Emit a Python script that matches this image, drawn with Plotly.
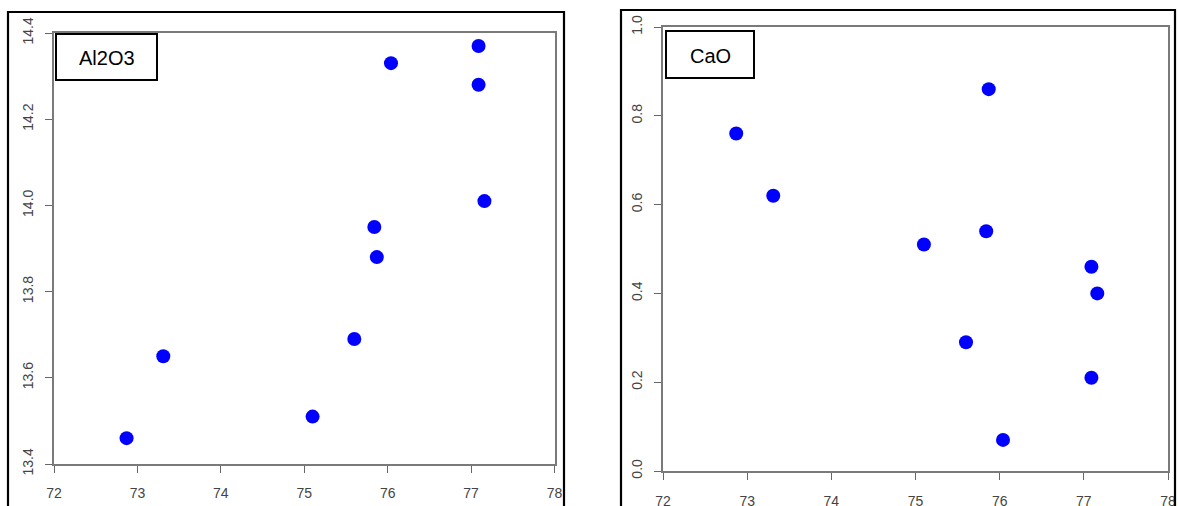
import plotly.graph_objects as go

W, H = 1178, 506

sio2 = [72.87, 73.31, 75.10, 75.60, 75.84, 75.87, 76.04, 77.09, 77.09, 77.16]
al2o3 = [13.46, 13.65, 13.51, 13.69, 13.95, 13.88, 14.33, 14.37, 14.28, 14.01]
cao = [0.76, 0.62, 0.51, 0.29, 0.54, 0.86, 0.07, 0.46, 0.21, 0.40]

x_ticks = [72, 73, 74, 75, 76, 77, 78]
al_ticks = [13.4, 13.6, 13.8, 14.0, 14.2, 14.4]
ca_ticks = [0.0, 0.2, 0.4, 0.6, 0.8, 1.0]
labels = ["Al2O3", "CaO"]


def px(x):
    return x / W


def py(y):
    return 1 - y / H


fig = go.Figure()
fig.add_trace(go.Scatter(x=sio2, y=al2o3, mode="markers", xaxis="x", yaxis="y",
                         marker=dict(size=14, color="#0000FF", line=dict(width=0)),
                         showlegend=False))
fig.add_trace(go.Scatter(x=sio2, y=cao, mode="markers", xaxis="x2", yaxis="y2",
                         marker=dict(size=14, color="#0000FF", line=dict(width=0)),
                         showlegend=False))

tickfont = dict(family="Liberation Sans, Arial", size=14, color="#444444")
common = dict(showgrid=False, zeroline=False, showline=True, mirror=True,
              linecolor="#7a7a7a", linewidth=1.5, ticks="outside", ticklen=7,
              tickcolor="#666666", tickwidth=1.2, tickfont=tickfont, automargin=False)

fig.update_layout(
    template="none",
    width=W, height=H,
    margin=dict(l=0, r=0, t=0, b=0, pad=0),
    paper_bgcolor="white", plot_bgcolor="white",
    showlegend=False,
    xaxis=dict(domain=[px(54), px(554.5)], range=[72, 78], tickvals=x_ticks,
               anchor="y", ticklabelstandoff=8, **common),
    yaxis=dict(domain=[py(464), py(33)], range=[13.4, 14.4], tickvals=al_ticks,
               tickformat=".1f", tickangle=-90, anchor="x", ticklabelstandoff=7, **common),
    xaxis2=dict(domain=[px(663), px(1168)], range=[72, 78], tickvals=x_ticks,
                anchor="y2", ticklabelstandoff=9, **common),
    yaxis2=dict(domain=[py(471), py(27)], range=[0, 1], tickvals=ca_ticks,
                tickformat=".1f", tickangle=-90, anchor="x2", ticklabelstandoff=7, **common),
)

shapes = []
# outer frames
shapes.append(dict(type="rect", xref="paper", yref="paper", x0=px(8), x1=px(564),
                   y0=py(520), y1=py(12), line=dict(color="black", width=2.2)))
shapes.append(dict(type="rect", xref="paper", yref="paper", x0=px(621), x1=px(1175),
                   y0=py(520), y1=py(10), line=dict(color="black", width=2.2)))
# label boxes
shapes.append(dict(type="rect", xref="paper", yref="paper", x0=px(56), x1=px(157),
                   y0=py(80), y1=py(34), fillcolor="white", line=dict(color="black", width=2)))
shapes.append(dict(type="rect", xref="paper", yref="paper", x0=px(666), x1=px(754),
                   y0=py(78), y1=py(31), fillcolor="white", line=dict(color="black", width=2)))
fig.update_layout(shapes=shapes)

fig.add_annotation(x=px(106.5), y=py(58), xref="paper", yref="paper", text=labels[0],
                   xanchor="center", yanchor="middle", showarrow=False,
                   font=dict(family="Liberation Sans, Arial", size=20, color="black"))
fig.add_annotation(x=px(710), y=py(56), xref="paper", yref="paper", text=labels[1],
                   xanchor="center", yanchor="middle", showarrow=False,
                   font=dict(family="Liberation Sans, Arial", size=20, color="black"))

fig.write_html(
    "out.html",
    config={"displayModeBar": False},
    post_script="document.body.style.margin='0';document.body.style.overflow='hidden';"
                "document.documentElement.style.overflow='hidden';",
)
